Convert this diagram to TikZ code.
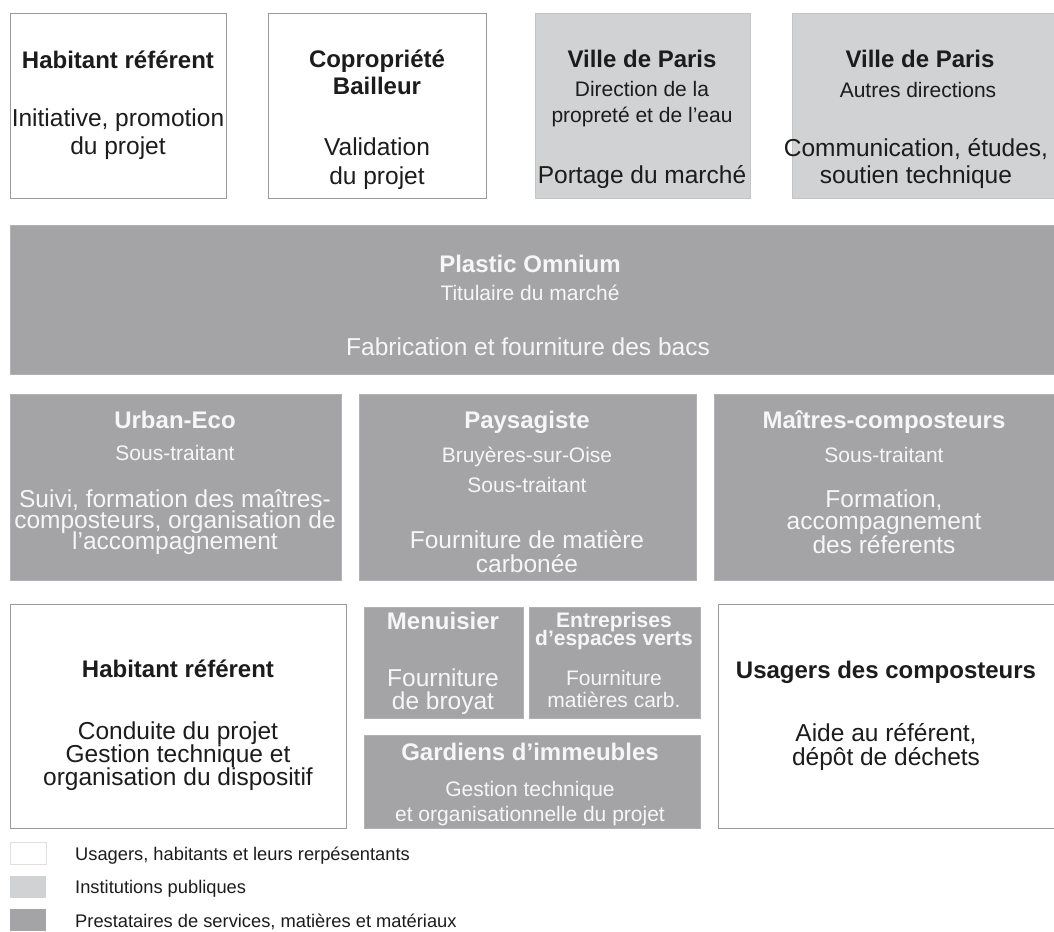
\documentclass[tikz,border=0pt]{standalone}
\usepackage{fontspec}
\setmainfont{Liberation Sans}
\definecolor{lgray}{HTML}{D1D2D4}
\definecolor{dgray}{HTML}{A4A4A6}
\definecolor{wline}{HTML}{9A9A9A}
\definecolor{lline}{HTML}{C4C4C6}
\definecolor{dline}{HTML}{B2B2B4}
\definecolor{tdark}{HTML}{1C1C1C}
\definecolor{tlight}{HTML}{F6F6F6}
\tikzset{
  wbox/.style={draw=wline, fill=white, line width=0.9pt, inner sep=0pt, anchor=north west},
  lbox/.style={draw=lline, fill=lgray, line width=0.9pt, inner sep=0pt, anchor=north west},
  dbox/.style={draw=dline, fill=dgray, line width=0.9pt, inner sep=0pt, anchor=north west},
  ttl/.style={anchor=base, inner sep=0pt, font=\fontsize{24}{26}\selectfont\bfseries},
  ttls/.style={anchor=base, inner sep=0pt, font=\fontsize{21}{23}\selectfont\bfseries},
  sub/.style={anchor=base, inner sep=0pt, font=\fontsize{21}{24}\selectfont},
  txt/.style={anchor=base, inner sep=0pt, font=\fontsize{24.5}{27}\selectfont},
  dk/.style={text=tdark},
  wt/.style={text=tlight},
  leg/.style={anchor=base west, inner sep=0pt, font=\fontsize{18.3}{20}\selectfont, text=tdark},
}
\begin{document}
\begin{tikzpicture}[x=1pt,y=-1pt]
\useasboundingbox (0,0) rectangle (1054,931);
% ---------- row 1
\node[wbox, minimum width=216, minimum height=185] (b1) at (10,13) {};
\node[wbox, minimum width=218, minimum height=185] (b2) at (268,13) {};
\node[lbox, minimum width=215, minimum height=185] (b3) at (535,13) {};
\node[lbox, minimum width=262, minimum height=185] (b4) at (792,13) {};
\node[ttl,dk] (b1a) at (118,69) {Habitant référent};
\node[txt,dk] (b1b) at (118,127) {Initiative, promotion};
\node[txt,dk] (b1c) at (118,154) {du projet};
\node[ttl,dk] (b2a) at (377,68) {Copropriété};
\node[ttl,dk] (b2b) at (377,95) {Bailleur};
\node[txt,dk] (b2c) at (377,155) {Validation};
\node[txt,dk] (b2d) at (377,184) {du projet};
\node[ttl,dk] (b3a) at (642,68) {Ville de Paris};
\node[sub,dk] (b3b) at (642,97) {Direction de la};
\node[sub,dk] (b3c) at (642,123) {propreté et de l’eau};
\node[txt,dk] (b3d) at (642,183) {Portage du marché};
\node[ttl,dk] (b4a) at (920,68) {Ville de Paris};
\node[sub,dk] (b4b) at (918,98) {Autres directions};
\node[txt,dk] (b4c) at (916,157) {Communication, études,};
\node[txt,dk] (b4d) at (916,183) {soutien technique};
% ---------- row 2
\node[dbox, minimum width=1044, minimum height=149] (po) at (10,225) {};
\node[ttl,wt] (poa) at (530,272) {Plastic Omnium};
\node[sub,wt] (pob) at (530,300) {Titulaire du marché};
\node[txt,wt] (poc) at (528,355) {Fabrication et fourniture des bacs};
% ---------- row 3
\node[dbox, minimum width=331, minimum height=186] (ue) at (10,394) {};
\node[dbox, minimum width=337, minimum height=186] (pa) at (359,394) {};
\node[dbox, minimum width=340, minimum height=186] (mc) at (714,394) {};
\node[ttl,wt] (uea) at (175,428) {Urban-Eco};
\node[sub,wt] (ueb) at (175,460) {Sous-traitant};
\node[txt,wt] (uec) at (175,507) {Suivi, formation des maîtres-};
\node[txt,wt] (ued) at (175,528) {composteurs, organisation de};
\node[txt,wt] (uee) at (175,549) {l’accompagnement};
\node[ttl,wt] (paa) at (527,428) {Paysagiste};
\node[sub,wt] (pab) at (527,462) {Bruyères-sur-Oise};
\node[sub,wt] (pac) at (527,492) {Sous-traitant};
\node[txt,wt] (pad) at (527,548) {Fourniture de matière};
\node[txt,wt] (pae) at (527,572) {carbonée};
\node[ttl,wt] (mca) at (884,428) {Maîtres-composteurs};
\node[sub,wt] (mcb) at (884,462) {Sous-traitant};
\node[txt,wt] (mcc) at (884,507) {Formation,};
\node[txt,wt] (mcd) at (884,529) {accompagnement};
\node[txt,wt] (mce) at (884,553) {des réferents};
% ---------- row 4
\node[wbox, minimum width=336, minimum height=224] (hr) at (10,604) {};
\node[dbox, minimum width=159, minimum height=111] (me) at (364,607) {};
\node[dbox, minimum width=171, minimum height=111] (ev) at (529,607) {};
\node[dbox, minimum width=336, minimum height=93] (ga) at (364,735) {};
\node[wbox, minimum width=336, minimum height=224] (us) at (718,604) {};
\node[ttl,dk] (hra) at (178,677) {Habitant référent};
\node[txt,dk] (hrb) at (178,739) {Conduite du projet};
\node[txt,dk] (hrc) at (178,762) {Gestion technique et};
\node[txt,dk] (hrd) at (178,785) {organisation du dispositif};
\node[ttl,wt] (mea) at (443,629) {Menuisier};
\node[txt,wt] (meb) at (443,686) {Fourniture};
\node[txt,wt] (mec) at (443,709) {de broyat};
\node[ttls,wt] (eva) at (614,627) {Entreprises};
\node[ttls,wt] (evb) at (614,645) {d’espaces verts};
\node[sub,wt] (evc) at (614,685) {Fourniture};
\node[sub,wt] (evd) at (614,707) {matières carb.};
\node[ttl,wt] (gaa) at (530,760) {Gardiens d’immeubles};
\node[sub,wt] (gab) at (530,796) {Gestion technique};
\node[sub,wt] (gac) at (530,821) {et organisationnelle du projet};
\node[ttl,dk] (usa) at (886,678) {Usagers des composteurs};
\node[txt,dk] (usb) at (886,741) {Aide au référent,};
\node[txt,dk] (usc) at (886,765) {dépôt de déchets};
% ---------- legend
\node[draw=lgray!70, fill=white, line width=0.6pt, inner sep=0pt, anchor=north west, minimum width=36, minimum height=22] (sw1) at (10,842) {};
\node[fill=lgray, inner sep=0pt, anchor=north west, minimum width=36, minimum height=22] (sw2) at (10,876) {};
\node[fill=dgray, inner sep=0pt, anchor=north west, minimum width=36, minimum height=22] (sw3) at (10,909) {};
\node[leg] (lg1) at (75,860) {Usagers, habitants et leurs rerpésentants};
\node[leg] (lg2) at (75,893) {Institutions publiques};
\node[leg] (lg3) at (75,927) {Prestataires de services, matières et matériaux};
\end{tikzpicture}
\end{document}
